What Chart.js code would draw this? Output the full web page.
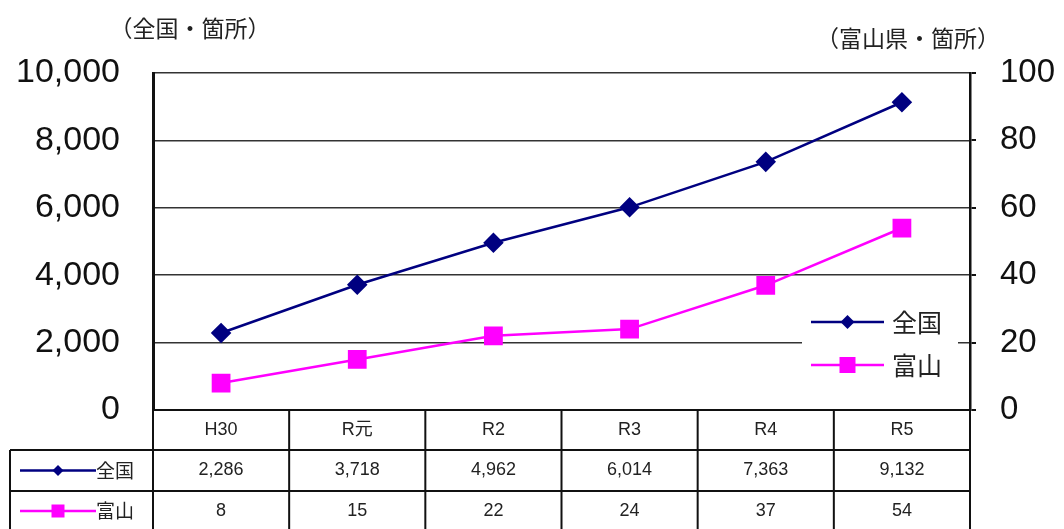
<!DOCTYPE html>
<html>
<head>
<meta charset="utf-8">
<script src="https://cdn.jsdelivr.net/npm/chart.js@4/dist/chart.umd.min.js"></script>
<style>
  body { margin: 0; background: #fff; }
  #wrap { width: 1064px; height: 529px; }
</style>
</head>
<body>
<div id="wrap"><canvas id="chart" width="1064" height="529"></canvas></div>
<script>
// data
const categories = ['H30', 'R元', 'R2', 'R3', 'R4', 'R5'];
const zenkoku = [2286, 3718, 4962, 6014, 7363, 9132];
const toyama = [8, 15, 22, 24, 37, 54];
const seriesNames = ['全国', '富山'];
const leftTitle = '（全国・箇所）';
const rightTitle = '（富山県・箇所）';

const NAVY = '#000080';
const PINK = '#ff00ff';
const JP = '"Noto Sans CJK JP"';

function fmt(v) {
    return Number(v).toLocaleString('en-US');
}

// little line+marker sample, used by legend and table
function drawSample(ctx, x1, x2, y, color, style, size) {
    ctx.save();
    ctx.strokeStyle = color;
    ctx.fillStyle = color;
    ctx.lineWidth = 2.5;
    ctx.beginPath();
    ctx.moveTo(x1, y);
    ctx.lineTo(x2, y);
    ctx.stroke();
    const cx = (x1 + x2) / 2;
    ctx.beginPath();
    if (style === 'diamond') {
        ctx.moveTo(cx, y - size);
        ctx.lineTo(cx + size, y);
        ctx.lineTo(cx, y + size);
        ctx.lineTo(cx - size, y);
        ctx.closePath();
    } else {
        ctx.rect(cx - size, y - size, 2 * size, 2 * size);
    }
    ctx.fill();
    ctx.restore();
}

const extras = {
    id: 'extras',
    afterDraw(chart) {
        const ctx = chart.ctx;
        const area = chart.chartArea;
        const xs = chart.scales.x;
        ctx.save();

        // axis titles
        ctx.fillStyle = '#222';
        ctx.font = '23px ' + JP;
        ctx.textAlign = 'center';
        ctx.textBaseline = 'middle';
        ctx.fillText(leftTitle, 190, 28);
        ctx.fillText(rightTitle, 908, 38);

        // legend inside the plot, white box over the grid
        ctx.fillStyle = '#fff';
        ctx.fillRect(802, 300, 156, 86);
        drawSample(ctx, 811, 884, 322, NAVY, 'diamond', 7);
        drawSample(ctx, 811, 884, 365, PINK, 'square', 8);
        ctx.fillStyle = '#222';
        ctx.font = '25px ' + JP;
        ctx.textAlign = 'left';
        ctx.fillText(seriesNames[0], 892, 322);
        ctx.fillText(seriesNames[1], 892, 365);

        // data table under the plot
        const colW = (area.right - area.left) / categories.length;
        const rowY = [area.bottom, area.bottom + 40, area.bottom + 81, area.bottom + 121];
        const labelLeft = 10;
        ctx.strokeStyle = '#111';
        ctx.lineWidth = 2;
        ctx.beginPath();
        // horizontal lines
        ctx.moveTo(area.left, rowY[0]); ctx.lineTo(area.right, rowY[0]);
        for (let r = 1; r < rowY.length; r++) {
            ctx.moveTo(labelLeft, rowY[r]); ctx.lineTo(area.right, rowY[r]);
        }
        // vertical lines
        ctx.moveTo(labelLeft, rowY[1]); ctx.lineTo(labelLeft, rowY[3]);
        for (let i = 0; i <= categories.length; i++) {
            const x = area.left + i * colW;
            ctx.moveTo(x, rowY[0]); ctx.lineTo(x, rowY[3]);
        }
        ctx.stroke();

        ctx.fillStyle = '#222';
        ctx.textAlign = 'center';
        ctx.font = '18px "Liberation Sans", ' + JP;
        categories.forEach(function(c, i) {
            const x = xs.getPixelForValue(i);
            ctx.fillText(c, x, (rowY[0] + rowY[1]) / 2);
            ctx.fillText(fmt(zenkoku[i]), x, (rowY[1] + rowY[2]) / 2);
            ctx.fillText(fmt(toyama[i]), x, (rowY[2] + rowY[3]) / 2);
        });

        // row labels with line samples
        const y1 = (rowY[1] + rowY[2]) / 2;
        const y2 = (rowY[2] + rowY[3]) / 2;
        drawSample(ctx, 20, 96, y1, NAVY, 'diamond', 5.5);
        drawSample(ctx, 20, 96, y2, PINK, 'square', 6.5);
        ctx.fillStyle = '#222';
        ctx.font = '19px ' + JP;
        ctx.textAlign = 'left';
        ctx.fillText(seriesNames[0], 96, y1);
        ctx.fillText(seriesNames[1], 96, y2);

        ctx.restore();
    }
};

new Chart(document.getElementById('chart').getContext('2d'), {
    type: 'line',
    data: {
        labels: categories,
        datasets: [{
            label: seriesNames[0],
            data: zenkoku,
            yAxisID: 'y',
            borderColor: NAVY,
            backgroundColor: NAVY,
            borderWidth: 2.5,
            pointStyle: 'rectRot',
            pointRadius: 8.5,
            pointHoverRadius: 8.5,
            tension: 0
        }, {
            label: seriesNames[1],
            data: toyama,
            yAxisID: 'y1',
            borderColor: PINK,
            backgroundColor: PINK,
            borderWidth: 2.5,
            pointStyle: 'rect',
            pointRadius: 11.5,
            pointHoverRadius: 11.5,
            tension: 0
        }]
    },
    options: {
        responsive: false,
        animation: false,
        layout: {
            padding: { top: 73, bottom: 119, left: 0, right: 0 }
        },
        plugins: {
            legend: { display: false },
            tooltip: { enabled: false }
        },
        scales: {
            x: {
                display: false,
                offset: true
            },
            y: {
                position: 'left',
                min: 0,
                max: 10000,
                afterFit: function(scale) { scale.width = 153; },
                ticks: {
                    stepSize: 2000,
                    padding: 33,
                    color: '#111',
                    font: { family: 'Liberation Sans', size: 34 },
                    callback: function(v) { return fmt(v); }
                },
                grid: {
                    color: '#333',
                    lineWidth: 1.5,
                    drawTicks: false
                },
                border: { color: '#111', width: 3 }
            },
            y1: {
                position: 'right',
                min: 0,
                max: 100,
                afterFit: function(scale) { scale.width = 94; },
                ticks: {
                    stepSize: 20,
                    padding: 24,
                    color: '#111',
                    font: { family: 'Liberation Sans', size: 33 }
                },
                grid: {
                    drawOnChartArea: false,
                    drawTicks: true,
                    tickLength: 6,
                    color: '#111',
                    lineWidth: 2
                },
                border: { color: '#111', width: 2.5 }
            }
        }
    },
    plugins: [extras]
});
</script>
</body>
</html>
